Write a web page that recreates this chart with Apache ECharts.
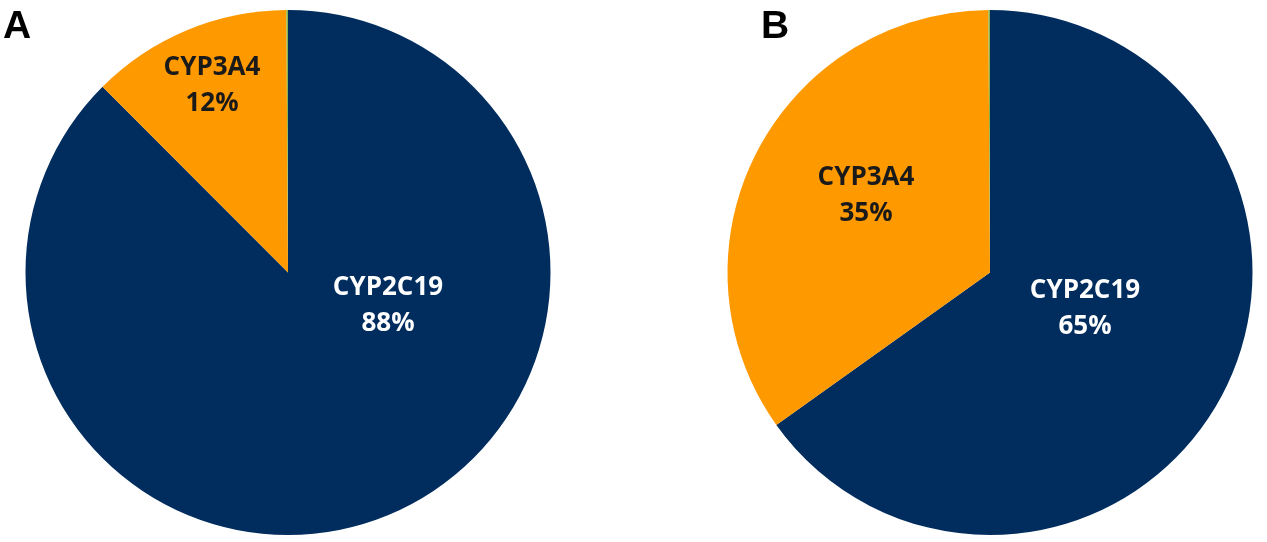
<!DOCTYPE html>
<html>
<head>
<meta charset="utf-8">
<script src="https://cdn.jsdelivr.net/npm/echarts@6/dist/echarts.min.js"></script>
<style>
  html, body { margin: 0; padding: 0; background: #fff; }
  #chart { width: 1267px; height: 542px; }
</style>
</head>
<body>
<div id="chart"></div>
<script>
// enzymes, clockwise from 12 o'clock
var enzymes = ['CYP2C19', 'CYP3A4', 'Other'];
var valuesA = [87.6, 12.4, 0.1];
var valuesB = [65.2, 34.8, 0.1];
var panelLetters = ['A', 'B'];

var colors = ['#002D5E', '#FF9900', '#8DB34A'];
var labelColors = ['#ffffff', '#1a1a1a', '#1a1a1a'];

// where the labels sit (pixels), per panel, per slice
var labelPos = [
    [[388, 306], [212, 86], null],
    [[1085, 309], [866, 196], null]
];

function buildData(values) {
    return enzymes.map(function (name, i) {
        return {
            name: name,
            value: values[i],
            itemStyle: { color: colors[i] },
            label: { show: i < 2, color: labelColors[i] }
        };
    });
}

function buildSeries(idx, values, center) {
    return {
        type: 'pie',
        center: center,
        radius: 262.5,
        startAngle: 90,
        clockwise: true,
        silent: true,
        avoidLabelOverlap: false,
        itemStyle: { borderWidth: 0 },
        label: {
            position: 'inside',
            formatter: function (p) { return p.name + '\n' + Math.round(p.value) + '%'; },
            fontFamily: 'Open Sans',
            fontWeight: 'bold',
            fontSize: 26,
            lineHeight: 36,
            align: 'center'
        },
        labelLine: { show: false },
        labelLayout: function (params) {
            var pos = labelPos[idx][params.dataIndex];
            if (!pos) return {};
            return { x: pos[0], y: pos[1], align: 'center', verticalAlign: 'middle' };
        },
        data: buildData(values)
    };
}

var myChart = echarts.init(document.getElementById('chart'), null, { renderer: 'canvas' });

var option = {
    backgroundColor: '#ffffff',
    animation: false,
    graphic: [
        { type: 'text', left: 3, top: 8, style: { text: panelLetters[0], font: 'bold 39px "Liberation Sans", Arial', fill: '#000' } },
        { type: 'text', left: 761, top: 8, style: { text: panelLetters[1], font: 'bold 39px "Liberation Sans", Arial', fill: '#000' } }
    ],
    series: [
        buildSeries(0, valuesA, [288, 272.5]),
        buildSeries(1, valuesB, [990, 272.5])
    ]
};

myChart.setOption(option);
</script>
</body>
</html>
